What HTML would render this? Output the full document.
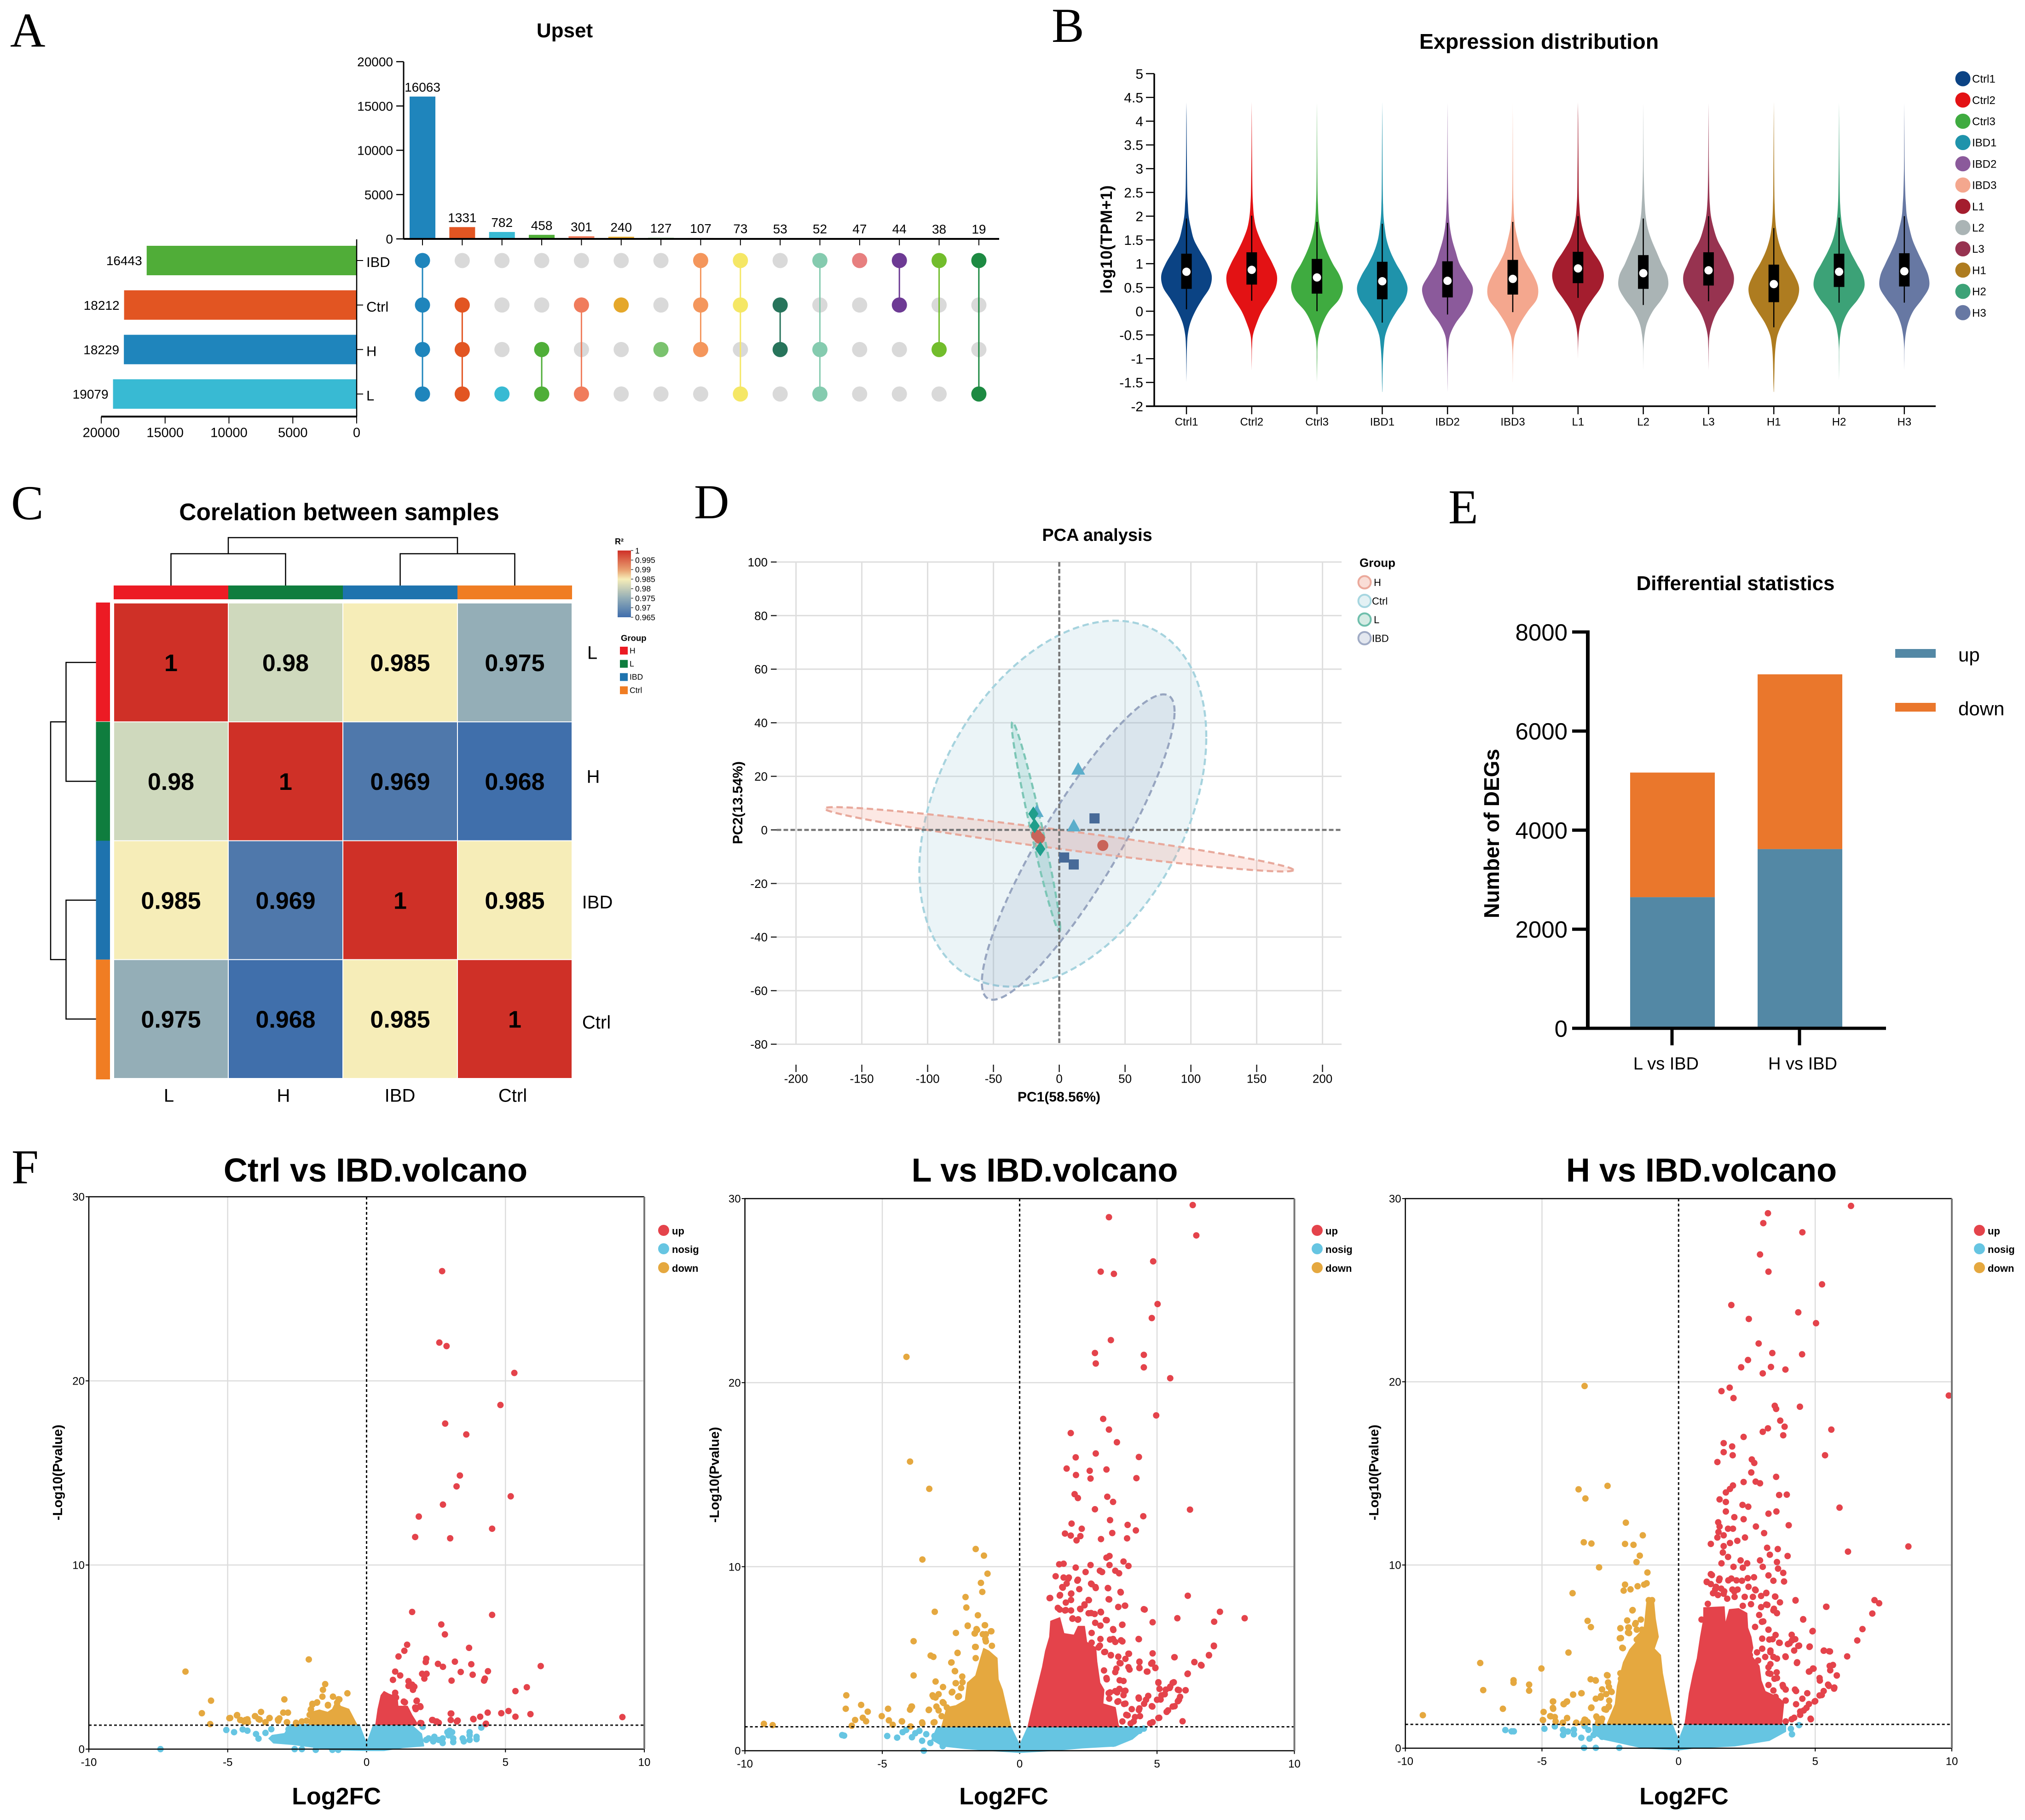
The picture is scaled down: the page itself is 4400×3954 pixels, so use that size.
<!DOCTYPE html>
<html lang="en">
<head>
<meta charset="utf-8">
<title>Multi-panel transcriptome figure</title>
<style>
html,body{margin:0;padding:0;background:#fff;}
svg{display:block;font-family:"Liberation Sans",Arial,sans-serif;}
.letter{font-family:"Liberation Serif",serif;font-size:106px;fill:#000;}
.ttl{font-weight:bold;text-anchor:middle;fill:#000;}
</style>
</head>
<body>
<svg id="figure" xmlns="http://www.w3.org/2000/svg" width="4400" height="3954" viewBox="0 0 4400 3954">
<defs>
<linearGradient id="r2grad" x1="0" y1="0" x2="0" y2="1">
<stop offset="0" stop-color="#CF3027"/><stop offset="0.29" stop-color="#E8A070"/><stop offset="0.43" stop-color="#F6EDB8"/><stop offset="0.71" stop-color="#94AEB7"/><stop offset="1" stop-color="#3F6DAC"/>
</linearGradient>
</defs>
<rect x="0" y="0" width="4400" height="3954" fill="#fff"/>

<text class="letter" x="22" y="101">A</text>
<text class="letter" x="2285" y="91">B</text>
<text class="letter" x="24" y="1128">C</text>
<text class="letter" x="1508" y="1126">D</text>
<text class="letter" x="3147" y="1137">E</text>
<text class="letter" x="25" y="2571">F</text>

<text class="ttl" x="1227" y="81" font-size="44">Upset</text>
<text class="ttl" x="3344" y="106" font-size="46.6">Expression distribution</text>
<text class="ttl" x="0" y="0" font-size="35" transform="translate(2416,520) rotate(-90)" letter-spacing="0.6">log10(TPM+1)</text>
<text class="ttl" x="737" y="1130" font-size="51.5">Corelation between samples</text>
<text class="ttl" x="2384" y="1175" font-size="38">PCA analysis</text>
<text class="ttl" x="2301" y="2393" font-size="30">PC1(58.56%)</text>
<text class="ttl" x="0" y="0" font-size="30" transform="translate(1613,1744) rotate(-90)">PC2(13.54%)</text>
<text class="ttl" x="3771" y="1282" font-size="43.8">Differential statistics</text>
<text class="ttl" x="0" y="0" font-size="46" transform="translate(3257,1811) rotate(-90)">Number of DEGs</text>
<text class="ttl" x="816" y="2567" font-size="72">Ctrl vs IBD.volcano</text>
<text class="ttl" x="2270" y="2567" font-size="72">L vs IBD.volcano</text>
<text class="ttl" x="3697" y="2567" font-size="72">H vs IBD.volcano</text>
<text class="ttl" x="731" y="3920" font-size="52">Log2FC</text>
<text class="ttl" x="2181" y="3920" font-size="52">Log2FC</text>
<text class="ttl" x="3659" y="3920" font-size="52">Log2FC</text>
<text class="ttl" x="0" y="0" font-size="29" transform="translate(135,3199) rotate(-90)">-Log10(Pvalue)</text>
<text class="ttl" x="0" y="0" font-size="29" transform="translate(1562,3204) rotate(-90)">-Log10(Pvalue)</text>
<text class="ttl" x="0" y="0" font-size="29" transform="translate(2995,3199) rotate(-90)">-Log10(Pvalue)</text>

<g id="panelA"></g>
<g id="panelB"></g>
<g id="panelC"></g>
<g id="panelD"></g>
<g id="panelE"></g>
<g id="panelF"></g>
</svg>

<script>
/* ---------- Upset data ---------- */
const upsetValues = [16063,1331,782,458,301,240,127,107,73,53,52,47,44,38,19];
const upsetTicks = [0,5000,10000,15000,20000];
const upsetSets = ['IBD','Ctrl','H','L'];
const upsetMembers = [[0,1,2,3],[1,2,3],[3],[2,3],[1,3],[1],[2],[0,1,2],[0,1,3],[1,2],[0,2,3],[0],[0,1],[0,2],[0,3]];
const upsetColors = ['#1F85BC','#E25522','#38BAD3','#4FAE38','#F07C5C','#E5A72A','#7AC26E','#F4965C','#F5E765','#27745B','#85CBAF','#E77F7F','#6D3A94','#72BD2C','#1D8A42'];
const setSizes = [16443,18212,18229,19079];
const setColors = ['#50AD38','#E25522','#1F85BC','#38BAD3'];
const setTicks = [0,5000,10000,15000,20000];

/* ---------- Violin data ---------- */
const violinNames = ['Ctrl1','Ctrl2','Ctrl3','IBD1','IBD2','IBD3','L1','L2','L3','H1','H2','H3'];
const violinColors = ['#0B4384','#E31214','#3FAB40','#1F93AB','#8B5A9B','#F4A78E','#A41D2E','#AAB4B5','#973350','#AE7C20','#3CA277','#6778A3'];
const violinTicks = [-2,-1.5,-1,-0.5,0,0.5,1,1.5,2,2.5,3,3.5,4,4.5,5];
const densityLevels = [-1.7,-1.5,-1.25,-1,-0.75,-0.5,-0.25,0,0.25,0.5,0.75,1,1.25,1.5,1.75,2,2.25,2.5,3,3.5,4,4.4];
const densityCtrl1 = [0,0,.2,.4,.8,2,6,14,25,37,40,33,22,12,7,3.5,2.2,1.3,.8,.5,.3,0];
const densityCtrl2 = [0,0,0,.2,.5,2,8,16,28,38,40,33,23,14,7,3.5,2,1.2,.7,.4,.2,0];
const densityCtrl3 = [0,0,.2,.4,.7,3,9,19,35,41,36,25,16,9,4.5,2.4,1.5,.9,.5,.3,.15,0];
const densityIBD1 = [.15,.4,.7,1.2,2.5,5,12,23,36,40,33,22,13,7,4,2,1.3,.9,.6,.4,.2,0];
const densityIBD2 = [0,.15,.3,.6,1.3,4,13,27,37,40,30,19,13,7.5,4,2.2,1.4,.9,.5,.3,.15,0];
const densityIBD3 = [0,0,.15,.3,.9,3.5,12,24,38,40,33,22,13,8,4,2,1.2,.7,.4,.25,.1,0];
const densityL1 = [0,0,0,0,.2,1,4,11,23,36,41,36,24,13,7,3.5,2,1.2,.8,.5,.3,0];
const densityL2 = [0,0,0,.15,.4,2,6,15,29,39,38,29,21,13,7,3.8,2.4,1.5,.6,.3,.15,0];
const densityL3 = [0,0,0,.15,.4,1.5,6,14,27,38,40,33,24,14,8,3.8,2,1.2,.6,.35,.15,0];
const densityH1 = [.2,.6,1,1.5,2.8,6,14,26,37,40,33,22,13,7,3.6,2,1.3,.9,.6,.4,.2,0];
const densityH2 = [0,0,.1,.2,.4,2,6,15,30,40,38,28,18,10,5.5,3,1.7,1.1,.6,.35,.15,0];
const densityH3 = [0,0,0,.15,.4,2,6,14,28,39,38,30,21,13,8,4,2.5,1.5,.6,.35,.15,0];
const violinDensity = [densityCtrl1,densityCtrl2,densityCtrl3,densityIBD1,densityIBD2,densityIBD3,densityL1,densityL2,densityL3,densityH1,densityH2,densityH3];
const violinQ1 = [.47,.56,.37,.25,.29,.35,.59,.47,.54,.19,.51,.52];
const violinMedian = [.83,.87,.71,.63,.64,.68,.90,.80,.86,.57,.83,.84];
const violinQ3 = [1.21,1.24,1.10,1.04,1.05,1.08,1.25,1.18,1.24,.98,1.21,1.22];
const violinLow = [.04,.22,0,-.24,-.07,-.02,.28,.13,.21,-.34,.18,.18];
const violinHigh = [1.95,2.01,1.88,1.84,1.86,1.88,2.0,1.95,2.0,1.75,1.97,2.0];

/* ---------- Heatmap data ---------- */
const heatRows = ['L','H','IBD','Ctrl'];
const heatValues = [[1,0.98,0.985,0.975],[0.98,1,0.969,0.968],[0.985,0.969,1,0.985],[0.975,0.968,0.985,1]];
const heatStops = [0.965,0.968,0.969,0.975,0.98,0.985,1];
const heatStopColors = ['#3A6AAB','#406FAB','#4F78AB','#94AEB7','#CFD9BD','#F6EDB8','#CF3027'];
const heatLegendTicks = ['1','0.995','0.99','0.985','0.98','0.975','0.97','0.965'];
const heatGroups = ['H','L','IBD','Ctrl'];
const heatGroupColors = ['#EC1B24','#0F7D3E','#1E73AE','#F07D23'];

/* ---------- PCA data ---------- */
const pcaXTicks = [-200,-150,-100,-50,0,50,100,150,200];
const pcaYTicks = [-80,-60,-40,-20,0,20,40,60,80,100];
const pcaGroups = ['H','Ctrl','L','IBD'];
const pcaHx = [33.1,-17.1,-15.1], pcaHy = [-5.8,-2,-3.1];
const pcaCtrlx = [14.4,11,-17.1], pcaCtrly = [22.7,1.5,6.9];
const pcaLx = [-19.7,-18.7,-14.4], pcaLy = [6,1.5,-7.1];
const pcaIBDx = [26.8,3.7,11], pcaIBDy = [4.3,-10.3,-12.9];
/* ellipse: centre x, centre y, half-extent x, half-extent y, correlation */
const ellipseCtrl = [2.7,9.8,109,68.3,0.365];
const ellipseIBD = [14.4,-6.4,73.2,57,0.886];
const ellipseH = [-0.2,-3.5,178,12,-0.955];
const ellipseL = [-17.7,1.2,18.4,39.1,-0.968];

/* ---------- DEG bar data ---------- */
const degCategories = ['L vs IBD','H vs IBD'];
const degUp = [2647,3618];
const degDown = [2515,3527];
const degTicks = [0,2000,4000,6000,8000];

/* ---------- Volcano: Ctrl vs IBD ---------- */
const v1Up = [[2.72,25.96],[2.62,22.08],[2.88,21.89],[5.32,20.43],[4.82,18.69],[2.83,17.68],[3.59,17.09],[3.36,14.86],[3.24,14.27],[5.19,13.73],[2.75,13.28],[1.88,12.63],[4.52,11.97],[1.75,11.52],[3.01,11.45],[1.64,7.45],[4.52,7.29],[2.69,6.77],[2.82,6.23],[3.69,5.5],[1.46,5.67],[1.36,5.34],[1.15,5.03],[2.15,4.91],[2.13,4.73],[3.18,4.75],[2.57,4.63],[2.75,4.47],[3.77,4.61],[6.27,4.51],[1.03,4.21],[1.21,4],[2,4.09],[2.16,4.09],[2.08,3.83],[3.39,4.19],[3.82,4.04],[4.37,4.23],[4.26,3.83],[4.23,3.72],[3.06,3.72],[.95,3.76],[1.51,3.69],[1.51,3.43],[1.64,3.5],[1.72,3.39],[1.67,3.22],[5.77,3.36],[5.36,3.15],[9.21,1.74],[5.9,1.9],[5.36,1.76],[5.11,2.07],[4.85,1.95],[4.36,1.98],[4.09,1.76],[3.85,1.62],[4.29,1.36],[3.28,1.55],[3.05,1.93],[3.03,1.58],[2.6,1.43],[2.5,1.5],[2.38,1.58],[1.97,1.41],[1.8,2.61],[1.93,2.33],[1.75,2.26],[1.38,2.54],[1.03,3.06],[1.06,2.8],[1.81,2.63],[1.34,2.58],[1.94,2.29],[1.77,2.17],[3.03,1.93],[3.25,1.5],[2.36,1.58],[2.53,1.5],[1.94,1.42],[3.84,1.64],[4.3,1.38]];
const v1Down = [[-2.08,4.87],[-6.52,4.21],[-5.6,2.63],[-5.93,1.95],[-5.63,1.36],[-4.91,1.69],[-4.67,1.83],[-4.55,1.58],[-4.29,1.62],[-4.41,1.5],[-4.01,1.79],[-3.8,2.02],[-3.85,1.6],[-3.49,1.69],[-3.64,1.46],[-3.19,1.6],[-2.96,2.7],[-3,1.98],[-2.83,1.98],[-2.87,1.46],[-2.54,1.39],[-2.33,1.5],[-1.49,3.53],[-1.57,3.22],[-1.59,2.85],[-1.21,2.85],[-.98,2.7],[-.69,3.03],[-1.79,2.52],[-1.95,2.42],[-2.01,2.14],[-1.39,2.37],[-1.06,2.52],[-2.05,1.86],[-4.36,1.58],[-4.53,1.58],[-4.27,1.46],[-4.66,1.85],[-4.94,1.68],[-4.02,1.79],[-3.89,1.63],[-3.64,1.46],[-3.5,1.68],[-3.18,1.54],[-3.14,1.67],[-2.86,1.46],[-2.54,1.43],[-2.33,1.5],[-2.16,1.54],[-2,2.17],[-1.95,2.46],[-1.78,2.54],[-1.39,2.4],[-1.01,2.71]];
const v1Nosig = [[-5.05,1.04],[-4.77,.92],[-4.46,1.07],[-4.29,1],[-7.42,0],[-3.98,.82],[-3.89,.57],[-3.64,.88],[-3.43,1.08],[-3.3,.5],[-2.81,1.08],[-2.59,0],[-2.33,0],[-1.83,-.04],[-1.23,-.04],[-1.02,-.04],[2.23,.58],[2.44,.67],[2.74,.58],[2.99,1],[3.12,.58],[3.46,.58],[3.71,.75],[3.96,.67],[2.02,1.21],[4.13,1.17],[2.15,.5],[2.4,.42],[2.74,.33],[3.12,.38],[3.5,.42],[3.71,.5],[3.96,.54],[2.91,.92],[3.08,.92],[3.71,.92],[2.6,.5],[2.95,.75]];
const v1UpBandX = [.33,.41,.52,.63,.79,.92,1,1.09,1.13,1.47,1.64,1.81,1.81];
const v1UpBandY = [1.33,2.17,2.92,3.13,3,2.92,3.17,3.08,2.33,2.33,1.83,1.42,1.32];
const v1DownBandX = [-2.08,-2,-1.7,-1.4,-1.23,-1.07,-.94,-.64,-.35];
const v1DownBandY = [1.33,2,2.13,2,2.17,2.67,2.33,2.17,1.33];
const v1NosigLeftX = [-2.75,-.26,0,0,-1.2,-2.67,-3.35,-3.52,-3.4,-2.95];
const v1NosigLeftY = [1.33,1.33,.29,-.08,-.04,.25,.33,.58,.75,.85];
const v1NosigRightX = [0,.25,1.6,1.98,2.06,1.3,.63,0];
const v1NosigRightY = [.29,1.33,1.33,.83,.17,.08,-.08,-.08];

/* ---------- Volcano: L vs IBD ---------- */
const v2Up = [[6.3,29.65],[3.25,28.99],[6.43,28],[4.86,26.59],[2.95,26.03],[3.43,25.91],[5.02,24.27],[4.81,23.51],[3.32,22.31],[2.74,21.61],[4.52,21.51],[2.77,21.04],[4.52,20.83],[5.48,20.24],[4.97,18.22],[3.04,18.03],[3.25,17.45],[1.86,17.26],[3.54,16.76],[2.77,16.15],[2.04,15.94],[4.34,15.96],[1.71,15.33],[2.55,15.21],[3.16,15.28],[2.05,14.98],[2.58,14.79],[4.25,14.81],[2,13.94],[2.12,13.73],[3.19,13.8],[3.4,13.52],[2.74,13.12],[6.2,13.1],[4.5,12.74],[3.29,12.53],[1.89,12.34],[3.93,12.27],[2.26,12.06],[1.65,11.8],[1.86,11.69],[2.21,11.66],[3.37,11.83],[4.23,11.97],[3.91,11.54],[2.07,11.43],[2.96,11.5],[3.27,10.58],[3.16,10.49],[1.44,10.13],[1.6,10.16],[2.58,10.09],[3.27,10.09],[3.78,10.28],[3.96,10.04],[2.04,9.95],[2.4,9.71],[2.92,9.78],[3,9.71],[3.48,9.78],[3.62,9.64],[1.31,9.48],[1.6,9.41],[1.79,9.41],[2.12,9.29],[2.6,9.08],[2.76,8.89],[3.21,8.84],[3.67,8.63],[1.55,8.89],[1.71,9.08],[1.47,8.46],[1.88,8.54],[1.11,8.3],[6.12,8.42],[3.24,8.23],[2.52,8.18],[2.36,7.95],[2.2,7.71],[1.39,7.76],[1.68,7.64],[3.59,7.81],[3.83,7.88],[4.52,7.69],[2.95,7.55],[2.6,7.48],[7.29,7.55],[8.19,7.2],[5.74,7.2],[4.84,6.98],[7.08,7.01],[3.73,6.84],[3.14,7.1],[1.92,7.17],[2.12,7.12],[3.4,6.61],[4.33,6.07],[3.4,6.07],[3.69,6],[7.07,5.71],[6.89,5.2],[5.64,5.08],[3.96,5.27],[4.84,5.29],[6.36,4.82],[6.6,4.66],[4.36,4.82],[4.79,4.73],[4.94,4.49],[4.63,4.3],[4.36,4.49],[3.96,4.54],[3.64,4.77],[3.32,5.2],[3.08,5.36],[2.92,5.71],[6.12,4.19],[6.04,3.29],[5.61,3.72],[5.48,3.48],[5.32,3.32],[5.16,3.01],[5,2.77],[4.81,2.42],[5.8,3.29],[5.8,2.77],[5.64,2.42],[5.4,2.19],[5.08,1.79],[4.84,1.55],[5.93,1.6],[4.6,2.77],[4.36,2.3],[4.2,1.83],[4.04,1.48],[3.8,3.24],[3.64,3.83],[3.48,3.24],[3.56,2.66],[3.4,2.19],[3.8,2.54],[3.88,1.95],[3.16,3.95],[3.24,3.13],[5.05,3.72],[4.33,2.89],[3.07,4.36],[3.17,3.88],[3.48,4.27],[3.52,4.46],[3.78,3.79],[4,4.41],[4.36,4.84],[4.36,4.51],[4.65,4.3],[4.83,4.79],[4.94,4.51],[3.98,5.27],[3.85,4.99],[3.59,5.11],[3.32,5.18],[3.11,5.37],[2.87,5.61],[3.67,4.75],[3.63,3.36],[3.85,3.26],[3.78,3.02],[3.29,3.17],[3.55,3.17],[3.26,2.83],[3.59,2.69],[3.85,2.56],[4.34,2.83],[4.53,2.55],[4.68,2.98],[4.83,2.4],[4.34,2.21],[4.08,2.26],[3.93,1.92],[3.74,1.59],[4.15,1.59],[4.38,1.88],[4.75,1.49],[5.05,1.78],[5.05,3.69],[5.09,3.36],[5.57,3.69],[5.46,3.41],[5.28,3.07],[5.13,2.78],[5.76,3.31],[6.04,3.28],[5.84,2.93],[5.76,2.69],[5.57,2.4],[5.35,2.11],[6.11,4.17],[5.63,5.08],[6.36,4.81],[6.62,4.63],[6.89,5.18],[7.07,5.68],[4.34,6.06],[3.74,5.94],[3.48,5.91],[3.29,6.04],[3.41,6.56],[3.74,6.85],[3.17,7.09],[2.94,6.8],[2.75,6.95],[2.62,6.4],[2.94,6.07],[2.62,5.87],[2.96,7.52],[2.51,7.47],[2.73,7.43],[2.13,7.14],[1.93,7.19],[4.55,7.67],[3.59,7.81],[3.84,7.88],[3.26,8.22],[3.68,8.6],[3.22,8.83],[2.62,9.05],[2.77,8.84],[2.51,8.19],[2.36,7.9],[2.21,7.69],[1.87,7.62],[1.46,7.67],[1.65,7.62],[1.68,8.05],[1.46,8.43],[1.57,8.86],[1.76,9.34],[1.87,8.19],[1.87,8.53],[1.09,8.29],[2.17,8.78],[2.1,9.24]];
const v2Down = [[-4.12,21.4],[-3.99,15.71],[-3.29,14.23],[-3.54,10.39],[-1.6,10.96],[-1.3,10.6],[-1.17,9.62],[-1.41,9.12],[-1.36,8.63],[-1.97,8.35],[-1.94,7.78],[-3.09,7.55],[-1.52,7.36],[-1.89,6.8],[-1.27,6.82],[-1.57,6.61],[-2.32,6.4],[-1.63,6.37],[-1.04,6.49],[-1.25,6.07],[-3.86,5.95],[-1.6,5.64],[-2.26,5.31],[-3.24,5.17],[-3.14,5.1],[-2.48,4.8],[-3.86,4.09],[-2.36,4.33],[-3.06,3.76],[-2.32,3.67],[-2.08,3.72],[-2.79,3.46],[-2.45,3.2],[-3.17,3.01],[-3.06,2.89],[-2.21,2.96],[-2.77,2.59],[-2.95,2.19],[-6.31,3.01],[-6.33,2.28],[-5.77,2.49],[-5.53,2.12],[-5.71,1.79],[-5.99,1.67],[-5.59,1.6],[-6.11,1.36],[-9.31,1.46],[-8.99,1.39],[-5.02,1.88],[-4.79,2.28],[-4.76,1.65],[-4.62,1.41],[-4.29,1.6],[-3.99,2.23],[-3.94,2.4],[-3.54,1.48],[-3.3,2.23],[-3.13,1.53],[-3.97,1.32],[-2.53,2.07],[-1.6,5.03],[-2.26,5.32],[-2.49,4.79],[-2.35,4.32],[-2.09,4.03],[-2.33,3.67],[-2.13,3.41],[-2.47,3.17],[-2.24,2.93],[-3.14,2.93],[-2.95,3.07],[-3.03,2.4],[-3.31,2.21],[-2.8,2.64],[-2.65,2.35],[-2.84,1.88],[-3.1,1.55],[-3.55,1.54],[-4.28,1.59],[-3.98,2.26],[-3.92,2.4],[-1.64,6.37],[-1.55,6.56],[-1.23,6.33],[-1.34,6.33],[-1.03,6.49],[-1.23,5.94],[-1.01,5.7],[-1.62,5.64],[-1.89,6.78],[-1.26,6.82]];
const v2Nosig = [[-6.46,.85],[-6.39,.82],[-4.82,.8],[-4.46,.71],[-3.49,0],[-3.25,.42],[-3.65,1.08],[-4.13,1.13],[-4.26,1.01],[-3.92,.73],[-3.55,.54],[-3.8,.95],[-3.4,.9],[-3.1,.8],[-2.8,.25],[3.4,.38],[3.64,.54],[3.88,.66],[4.12,.89],[4.36,1.08],[4.52,1.2]];
const v2UpBandX = [.3,.45,.64,.83,.94,1.09,1.13,1.46,1.61,1.98,2.13,2.36,2.44,2.77,2.81,2.92,3.07,3.03,3.48,3.59,3.63];
const v2UpBandY = [1.3,2.26,3.41,4.55,5.42,6.18,7.04,7.23,6.37,6.28,6.76,6.76,5.9,5.6,4.84,3.69,3.31,2.55,2.35,1.4,1.3];
const v2DownBandX = [-2.84,-2.65,-2.32,-1.98,-1.9,-1.6,-1.42,-1.31,-1.12,-.82,-.78,-.63,-.32];
const v2DownBandY = [1.3,2.35,2.45,2.74,3.69,4.08,5.03,5.56,5.42,5.03,3.88,3.31,1.3];
const v2NosigLeftX = [-3,-.32,0,0,-1,-2,-2.8,-3.2];
const v2NosigLeftY = [1.3,1.3,.3,-.1,0,.12,.25,.6];
const v2NosigRightX = [0,.3,4.64,4.1,3.48,2.28,1.16,0];
const v2NosigRightY = [.3,1.3,1.3,.63,.25,.15,0,-.1];

/* ---------- Volcano: H vs IBD ---------- */
const v3Up = [[6.31,29.6],[3.27,29.2],[3.1,28.66],[4.53,28.16],[2.98,26.95],[3.29,26.01],[5.25,25.32],[1.93,24.19],[4.38,23.79],[2.57,23.43],[5.03,23.2],[2.93,22.09],[3.43,21.57],[4.52,21.5],[2.54,21.19],[2.29,20.79],[3.38,20.81],[3.91,20.67],[3.08,20.46],[1.57,19.49],[1.87,19.68],[2.01,19.11],[9.89,19.25],[3.52,18.69],[3.57,18.52],[4.44,18.64],[3.72,17.88],[3.88,17.55],[3.27,17.46],[3.08,17.27],[5.59,17.39],[3.83,17.08],[2.38,16.99],[1.65,16.65],[1.96,16.47],[1.65,16.16],[1.98,15.99],[5.36,15.99],[1.42,15.62],[2.68,15.76],[2.77,15.57],[2.66,15.05],[3.57,14.81],[2.82,14.55],[2.98,14.46],[2.38,14.53],[1.99,14.34],[1.88,14.15],[1.73,13.96],[3.68,13.82],[3.96,13.84],[1.5,13.58],[1.73,13.44],[2.34,13.28],[2.55,13.18],[5.89,13.13],[3.58,12.92],[3.29,12.8],[1.73,12.92],[2.04,12.61],[2.38,12.5],[1.45,12.33],[1.5,12.1],[1.81,11.98],[1.99,11.98],[2.83,12.1],[4.03,12.17],[3.13,11.74],[1.46,11.8],[1.65,11.62],[1.42,11.5],[2.43,11.5],[2.15,11.32],[1.88,11.2],[1.18,11.15],[8.41,11.01],[1.65,11.03],[3.24,10.94],[3.63,10.87],[6.2,10.73],[1.62,10.68],[3.34,10.56],[3.99,10.49],[1.81,10.44],[2.27,10.25],[2.98,10.25],[1.57,10.09],[3.6,10.16],[2.51,10.09],[2.35,9.85],[3.08,9.9],[3.64,9.8],[2.01,9.9],[3.29,9.43],[3.83,9.57],[2.76,9.33],[1.18,9.5],[1.5,9.26],[1.93,9.26],[2.32,9.14],[1.03,9.07],[3.47,9.14],[3.86,9.1],[2.82,8.62],[3.21,8.48],[2.04,8.55],[1.34,8.67],[1.65,8.43],[3.54,8.27],[4.28,8.08],[7.17,8.08],[7.34,7.91],[5.4,7.72],[3.21,7.84],[3.49,7.61],[3.6,7.37],[7.09,7.35],[4.56,7.04],[3.05,6.9],[3.29,6.47],[6.73,6.5],[4.91,6.4],[4.14,6.19],[4.27,5.95],[4.06,5.72],[6.54,5.88],[4.41,5.6],[4.8,5.55],[3.68,5.76],[3.44,5.95],[3.91,5.01],[5.31,5.32],[5.51,5.29],[6.17,5.01],[4.33,4.65],[3.36,5.24],[3.6,4.89],[3.29,4.42],[5.65,4.54],[4.92,4.35],[4.77,4.18],[5.55,4.25],[5.79,3.97],[5.16,3.83],[5.47,3.47],[5.7,3.31],[5.31,3.12],[5.16,2.88],[5,2.57],[4.77,2.41],[4.58,2.06],[4.84,1.58],[4.3,3.12],[3.83,3.35],[3.6,3.83],[3.36,4.06],[4.45,1.82],[4.14,1.58],[3.47,4.98],[3.36,5.33],[3.06,5.43],[2.87,5.23],[2.61,5.08],[2.91,4.79],[3.17,4.98],[3.36,4.59],[3.59,4.14],[3.51,3.79],[3.29,4.09],[3.29,3.45],[3.47,3.15],[3.92,4.98],[4.34,4.69],[3.81,3.45],[4.26,3.2],[3.92,3.2],[3.55,2.8],[3.92,2.6],[4.3,2.4],[4.71,3],[4.53,2.7],[4.68,2.2],[4.45,2],[4.23,1.66],[3.92,1.46],[4.83,1.61],[4.98,2.55],[5.24,2.9],[5.17,3.69],[5.5,3.4],[5.69,3.25],[5.53,4.49],[5.79,3.97],[4.79,4.19],[4.94,4.34],[4.79,5.53],[5.32,5.33],[5.54,5.28],[4.15,5.88],[4,5.68],[4.38,5.58],[4.23,5.33],[4.9,6.38],[4.56,7.02],[5.41,7.72],[3.55,6.18],[3.7,5.75],[3.06,5.98],[3.32,5.93],[3.29,6.47],[3.1,6.92],[2.8,6.62],[2.95,7.27],[3.47,7.52],[3.02,7.7],[3.25,7.82],[2.65,7.86],[2.42,8.26],[2.72,8.26],[3.02,8.31],[3.21,8.46],[3.53,8.28],[3.71,7.96],[4.28,8.06],[2.35,7.77],[2.05,8.26],[1.78,8.16],[1.44,8.36],[1.26,8.46],[1.67,8.56],[1.97,8.66],[1.07,7.88],[.84,7.02],[1.56,8.71],[1.37,8.81],[1.18,8.96],[1.03,9.09],[1.48,9.16],[1.82,9.16],[2.12,9.16],[2.16,8.66],[2.53,9.28],[2.56,8.81],[2.8,8.66],[1.22,9.45]];
const v3Down = [[-3.44,19.77],[-2.6,14.32],[-3.66,14.13],[-3.41,13.63],[-1.93,12.31],[-1.31,11.62],[-3.47,11.24],[-3.19,11.17],[-1.96,11.15],[-1.65,11.1],[-1.42,10.51],[-1.54,10.16],[-2.91,9.87],[-1.14,9.59],[-1.96,8.93],[-2.01,8.6],[-1.76,8.67],[-1.5,8.84],[-1.26,8.93],[-1.17,9],[-3.88,8.46],[-1.09,8.08],[-.97,8.08],[-1.68,7.54],[-1.88,6.97],[-3.33,6.95],[-3.21,6.61],[-2.13,6.54],[-1.82,6.59],[-1.57,6.83],[-1.85,6.31],[-2.15,6],[-4.03,5.22],[-2.06,5.48],[-7.26,4.65],[-5.02,4.35],[-2.6,3.97],[-3.22,3.76],[-3.04,3.71],[-6.04,3.71],[-6.04,3.57],[-5.47,3.47],[-5.47,3.14],[-7.15,3.17],[-2.8,3.21],[-2.55,3.35],[-2.45,3.07],[-3.55,3],[-3.86,2.93],[-2.85,2.76],[-4.6,2.55],[-4.1,2.53],[-4.21,2.41],[-6.43,2.15],[-4.6,2.2],[-3.19,2.22],[-2.55,2.29],[-2.71,2.13],[-4.94,1.98],[-9.36,1.8],[-4.7,1.75],[-4.53,1.7],[-4.97,1.54],[-4.5,1.46],[-4.08,1.65],[-4.24,1.39],[-3.75,1.39],[-3.41,1.54],[-2.98,1.65],[-2.83,1.46],[-3.49,1.39],[-2.13,4.09],[-2.11,3.79],[-2.62,3.99],[-2.58,3.59],[-3.03,3.69],[-2.65,2.95],[-2.47,3.1],[-2.84,2.85],[-3.03,2.7],[-2.54,2.6],[-2.56,2.25],[-2.65,2.1],[-3.2,2.2],[-4.2,2.4],[-4.08,2.55],[-3.86,2.92],[-3.56,3],[-4.59,2.55],[-4.59,2.15],[-4.68,1.74],[-4.96,1.53],[-4.08,1.64],[-4.23,1.39],[-3.74,1.39],[-3.44,1.56],[-3.33,1.43],[-3.01,1.73],[-2.8,1.61],[-2.95,1.39],[-2.13,6.55],[-1.84,6.59],[-1.81,6.28],[-2.11,6.01],[-2.04,5.46],[-1.69,7.52],[-1.88,6.97],[-1.59,6.77],[-1.38,7.02],[-1.53,6.47],[-1.34,6.47],[-1.53,5.93]];
const v3Nosig = [[-6.34,.99],[-6.11,.92],[-6.03,.92],[-4.91,1.06],[-4.53,1.19],[-4.23,1.01],[-4.23,.72],[-4.05,.91],[-3.83,1.01],[-3.83,.76],[-3.56,.57],[-3.46,.02],[-3.03,.02],[-3.44,1.21],[-3.26,.52],[-3.11,.72],[-2.8,.62],[-2.58,.91],[-2.17,.02],[-3.3,1],[-3,1.1],[4.15,.76],[4.11,1.06],[4.41,1.26]];
const v3UpBandX = [.23,.39,.54,.68,.8,.92,.92,1.67,1.71,1.86,2.2,2.5,2.53,2.65,2.72,2.65,2.95,3.02,3.17,3.62,3.85,3.77];
const v3UpBandY = [1.31,3,4.09,4.89,6.08,7.07,7.67,7.72,6.77,7.57,7.62,7.37,6.57,6.08,5.48,5.08,4.49,3.69,3.1,2.8,2.5,1.31];
const v3DownBandX = [-2.62,-2.32,-2.24,-2.02,-1.79,-1.56,-1.56,-1.26,-1.15,-.92,-.85,-.74,-.89,-.66,-.59,-.23];
const v3DownBandY = [1.31,2.4,3.4,4.69,5.38,5.78,6.08,6.57,8.16,8.16,7.07,6.08,5.43,5.08,4.09,1.31];
const v3NosigLeftX = [-3.14,-.23,0,0,-1.34,-2.24,-2.8,-3.14];
const v3NosigLeftY = [1.3,1.31,.42,-.1,.02,.32,.5,.8];
const v3NosigRightX = [0,.23,3.92,3.92,3.32,2.05,.54,0];
const v3NosigRightY = [.42,1.31,1.31,.91,.42,.12,0,-.1];

const volcanoXTicks = [-10,-5,0,5,10];
const volcanoYTicks = [0,10,20,30];
const volcanoThreshold = 1.3;
const volcanoLegend = ['up','nosig','down'];

/* ---------- helpers ---------- */
const NS = 'http://www.w3.org/2000/svg';
function mk(tag, attrs, parent) {
  const el = document.createElementNS(NS, tag);
  for (const k in attrs) el.setAttribute(k, attrs[k]);
  parent.appendChild(el);
  return el;
}
function txt(parent, x, y, str, size, anchor, weight) {
  const el = mk('text', {x: x, y: y + size * 0.36, 'font-size': size, 'text-anchor': anchor || 'middle', 'font-weight': weight || 'normal', fill: '#000'}, parent);
  el.textContent = str;
  return el;
}
function scale(d0, d1, r0, r1) { return v => r0 + (v - d0) / (d1 - d0) * (r1 - r0); }
function smooth(pts) {
  let d = '';
  for (let i = 0; i < pts.length - 1; i++) {
    const p0 = pts[Math.max(i - 1, 0)], p1 = pts[i], p2 = pts[i + 1], p3 = pts[Math.min(i + 2, pts.length - 1)];
    d += 'C' + (p1[0] + (p2[0] - p0[0]) / 6).toFixed(2) + ' ' + (p1[1] + (p2[1] - p0[1]) / 6).toFixed(2) + ' ' +
         (p2[0] - (p3[0] - p1[0]) / 6).toFixed(2) + ' ' + (p2[1] - (p3[1] - p1[1]) / 6).toFixed(2) + ' ' +
         p2[0].toFixed(2) + ' ' + p2[1].toFixed(2);
  }
  return d;
}

/* ---------- Panel A ---------- */
(function () {
  const g = document.getElementById('panelA');
  const yUp = scale(0, 20000, 519, 134);
  const xBar = i => 918 + i * 86.35;
  const rowY = i => 566 + i * 96.67;
  const xSet = scale(0, 20000, 775, 220);
  upsetTicks.forEach(t => {
    const tk = mk('line', {x1: 861, x2: 877, y1: yUp(t), y2: yUp(t), stroke: '#000', 'stroke-width': 2.5}, g);
    
    
    const lb = txt(g, 854, yUp(t), String(t), 28, 'end');
    
    
  });
  const ax = mk('line', {x1: 877, x2: 877, y1: 134, y2: 519, stroke: '#000', 'stroke-width': 3}, g);
  
  
  upsetValues.forEach((v, i) => {
    const b = mk('rect', {x: xBar(i) - 28, y: yUp(v), width: 56, height: 519 - yUp(v), fill: upsetColors[i]}, g);
    
    
    const tk = mk('line', {x1: xBar(i), x2: xBar(i), y1: 519, y2: 533, stroke: '#000', 'stroke-width': 2}, g);
    
    
    const lb = txt(g, xBar(i), yUp(v) - 21, String(v), 28);
    
    
  });
  const xa = mk('line', {x1: 877, x2: 2171, y1: 519, y2: 519, stroke: '#000', 'stroke-width': 4}, g);
  
  

  setSizes.forEach((v, i) => {
    const b = mk('rect', {x: xSet(v), y: rowY(i) - 32, width: 775 - xSet(v), height: 64, fill: setColors[i]}, g);
    
    
    const lb = txt(g, xSet(v) - 10, rowY(i), String(v), 28, 'end');
    
    
    const tk = mk('line', {x1: 775, x2: 789, y1: rowY(i), y2: rowY(i), stroke: '#000', 'stroke-width': 2}, g);
    
    
    const nm = txt(g, 796, rowY(i) + 3, upsetSets[i], 31, 'start');
    
    
  });
  const sa = mk('line', {x1: 775, x2: 775, y1: 520, y2: 905, stroke: '#000', 'stroke-width': 2.5}, g);
  
  
  const sb = mk('line', {x1: 220, x2: 775, y1: 905, y2: 905, stroke: '#000', 'stroke-width': 4}, g);
  
  
  setTicks.forEach(t => {
    const tk = mk('line', {x1: xSet(t), x2: xSet(t), y1: 905, y2: 920, stroke: '#000', 'stroke-width': 2}, g);
    
    
    const lb = txt(g, xSet(t), 939, String(t), 29);
    
    
  });
  upsetMembers.forEach((m, i) => {
    upsetSets.forEach((s, r) => {
      if (m.indexOf(r) < 0) {
        const d = mk('circle', {cx: xBar(i), cy: rowY(r), r: 16.5, fill: '#D9D9D9'}, g);
        
        
      }
    });
  });
  upsetMembers.forEach((m, i) => {
    if (m.length > 1) {
      const ln = mk('line', {x1: xBar(i), x2: xBar(i), y1: rowY(m[0]), y2: rowY(m[m.length - 1]), stroke: upsetColors[i], 'stroke-width': 3}, g);
      
      
    }
    m.forEach(r => {
      const d = mk('circle', {cx: xBar(i), cy: rowY(r), r: 16.5, fill: upsetColors[i]}, g);
      
      
    });
  });
})();

/* ---------- Panel B ---------- */
(function () {
  const g = document.getElementById('panelB');
  const y = scale(-2, 5, 882.5, 160);
  const x = i => 2578 + i * 141.8;
  violinTicks.forEach(t => {
    const tk = mk('line', {x1: 2490, x2: 2508, y1: y(t), y2: y(t), stroke: '#000', 'stroke-width': 2.5}, g);
    
    
    const lb = txt(g, 2484, y(t), String(t), 30, 'end');
    
    
  });
  violinNames.forEach((n, i) => {
    const c = x(i), dens = violinDensity[i];
    let first = 0;
    while (first < dens.length - 1 && dens[first + 1] === 0) first++;
    const lv = densityLevels.slice(first), dv = dens.slice(first);
    const right = lv.map((l, k) => [c + dv[k] * 1.371, y(l)]);
    const left = lv.map((l, k) => [c - dv[k] * 1.371, y(l)]).reverse();
    const p = mk('path', {d: 'M' + right[0][0] + ' ' + right[0][1] + smooth(right) + 'L' + left[0][0] + ' ' + left[0][1] + smooth(left) + 'Z', fill: violinColors[i]}, g);
    
    
    const w = mk('line', {x1: c, x2: c, y1: y(violinLow[i]), y2: y(violinHigh[i]), stroke: '#000', 'stroke-width': 2.5}, g);
    
    
    const b = mk('rect', {x: c - 11.5, y: y(violinQ3[i]), width: 23, height: y(violinQ1[i]) - y(violinQ3[i]), fill: '#000'}, g);
    
    
    const m = mk('circle', {cx: c, cy: y(violinMedian[i]), r: 9, fill: '#fff'}, g);
    
    
    const tk = mk('line', {x1: c, x2: c, y1: 882.5, y2: 900, stroke: '#000', 'stroke-width': 2.5}, g);
    
    
    const lb = txt(g, c, 916, n, 24);
    
    
    const ld = mk('circle', {cx: 4265, cy: 171 + i * 46.2, r: 16.5, fill: violinColors[i]}, g);
    
    
    const ll = txt(g, 4285, 171 + i * 46.2, n, 24, 'start');
    
    
  });
  const ay = mk('line', {x1: 2508, x2: 2508, y1: 160, y2: 884, stroke: '#000', 'stroke-width': 3.5}, g);
  
  
  const ax = mk('line', {x1: 2490, x2: 4206, y1: 882.5, y2: 882.5, stroke: '#000', 'stroke-width': 3.5}, g);
  
  
})();

/* ---------- Panel C ---------- */
(function () {
  const g = document.getElementById('panelC');
  const cx = scale(0, 4, 247, 1243), cy = scale(0, 4, 1310, 2343);
  function hex2(c) { return [parseInt(c.substr(1, 2), 16), parseInt(c.substr(3, 2), 16), parseInt(c.substr(5, 2), 16)]; }
  function heatColor(v) {
    let k = 0;
    while (k < heatStops.length - 2 && v > heatStops[k + 1]) k++;
    const t = Math.min(1, Math.max(0, (v - heatStops[k]) / (heatStops[k + 1] - heatStops[k])));
    const a = hex2(heatStopColors[k]), b = hex2(heatStopColors[k + 1]);
    return 'rgb(' + a.map((q, j) => Math.round(q + (b[j] - q) * t)).join(',') + ')';
  }
  heatValues.forEach((row, r) => {
    row.forEach((v, c) => {
      const cell = mk('rect', {x: cx(c) + 1, y: cy(r) + 1, width: cx(1) - cx(0) - 2, height: cy(1) - cy(0) - 2, fill: heatColor(v)}, g);
      
      
      const lb = txt(g, (cx(c) + cx(c + 1)) / 2, (cy(r) + cy(r + 1)) / 2, String(v), 52, 'middle', 'bold');
      
      
    });
  });
  heatGroupColors.forEach((col, i) => {
    const t = mk('rect', {x: cx(i), y: 1272, width: cx(1) - cx(0), height: 30, fill: col}, g);
    
    
    const l = mk('rect', {x: 208.5, y: cy(i) - (i === 0 ? 1 : 0), width: 30.5, height: cy(1) - cy(0) + (i === 3 ? 2 : 0), fill: col}, g);
    
    
  });
  const cxc = i => (cx(i) + cx(i + 1)) / 2, cyc = i => (cy(i) + cy(i + 1)) / 2;
  const dTop = mk('path', {d: 'M' + cxc(0) + ' 1272V1203H' + cxc(1) + 'V1272M' + cx(1) + ' 1203V1168H' + cx(3) + 'V1203M' + cxc(2) + ' 1272V1203H' + cxc(3) + 'V1272', fill: 'none', stroke: '#000', 'stroke-width': 2.5}, g);
  
  
  const dLeft = mk('path', {d: 'M208.5 ' + cyc(0) + 'H143.5V' + cyc(1) + 'H208.5M143.5 ' + cy(1) + 'H110V' + cy(3) + 'H143.5M208.5 ' + cyc(2) + 'H143.5V' + cyc(3) + 'H208.5', fill: 'none', stroke: '#000', 'stroke-width': 2.5}, g);
  
  
  const rowLabelX = [1287, 1289, 1298, 1296], rowLabelY = [1417, 1686, 1959, 2220], colLabelX = [367, 616, 869, 1114];
  heatRows.forEach((n, i) => {
    const a = txt(g, rowLabelX[i], rowLabelY[i], n, 40);
    
    
    const b = txt(g, colLabelX[i], 2379, n, 40);
    
    
  });
  const rt = txt(g, 1336, 1176, 'R²', 18, 'start', 'bold');
  
  
  const bar = mk('rect', {x: 1342, y: 1196, width: 29, height: 145, fill: 'url(#r2grad)'}, g);
  
  
  heatLegendTicks.forEach((t, i) => {
    const yy = 1196 + i * 145 / 7;
    const tk = mk('line', {x1: 1371, x2: 1376, y1: yy, y2: yy, stroke: '#444', 'stroke-width': 1.5}, g);
    
    
    const lb = txt(g, 1380, yy, t, 17.5, 'start');
    
    
  });
  const gt = txt(g, 1349, 1386, 'Group', 18.5, 'start', 'bold');
  
  
  heatGroups.forEach((n, i) => {
    const yy = 1405 + i * 28.7;
    const s = mk('rect', {x: 1347, y: yy, width: 17, height: 17, fill: heatGroupColors[i]}, g);
    
    
    const lb = txt(g, 1368, yy + 8, n, 17.5, 'start');
    
    
  });
})();

/* ---------- Panel D ---------- */
(function () {
  const g = document.getElementById('panelD');
  const x = scale(-200, 200, 1729.6, 2873.6), y = scale(-80, 100, 2268.6, 1221);
  pcaXTicks.forEach(t => {
    if (t !== 0) {
      const gl = mk('line', {x1: x(t), x2: x(t), y1: 1221, y2: 2268.6, stroke: '#DEDEDE', 'stroke-width': 3}, g);
      
      
    }
    const tk = mk('line', {x1: x(t), x2: x(t), y1: 2313, y2: 2329, stroke: '#222', 'stroke-width': 2.5}, g);
    
    
    const lb = txt(g, x(t), 2343, String(t), 26);
    
    
  });
  pcaYTicks.forEach(t => {
    if (t !== 0) {
      const gl = mk('line', {x1: 1687.5, x2: 2915, y1: y(t), y2: y(t), stroke: '#DEDEDE', 'stroke-width': 3}, g);
      
      
    }
    const tk = mk('line', {x1: 1675, x2: 1687.5, y1: y(t), y2: y(t), stroke: '#222', 'stroke-width': 2.5}, g);
    
    
    const lb = txt(g, 1668, y(t), String(t), 26, 'end');
    
    
  });
  function ellipsePath(e) {
    let d = '';
    const shift = Math.acos(e[4]);
    for (let k = 0; k <= 160; k++) {
      const t = k / 160 * 2 * Math.PI;
      d += (k ? 'L' : 'M') + x(e[0] + e[2] * Math.cos(t)).toFixed(2) + ' ' + y(e[1] + e[3] * Math.cos(t - shift)).toFixed(2);
    }
    return d + 'Z';
  }
  const ee1 = mk('path', {d: ellipsePath(ellipseCtrl), fill: 'rgba(170,210,220,0.24)', stroke: '#A6D3DE', 'stroke-width': 4.5, 'stroke-dasharray': '14 8'}, g);
  
  
  const ee2 = mk('path', {d: ellipsePath(ellipseIBD), fill: 'rgba(80,110,160,0.11)', stroke: '#97A5C0', 'stroke-width': 4.5, 'stroke-dasharray': '14 8'}, g);
  
  
  const ee3 = mk('path', {d: ellipsePath(ellipseH), fill: 'rgba(240,150,130,0.22)', stroke: '#E8A99C', 'stroke-width': 4.5, 'stroke-dasharray': '14 8'}, g);
  
  
  const ee4 = mk('path', {d: ellipsePath(ellipseL), fill: 'rgba(30,160,140,0.14)', stroke: '#7CC6B6', 'stroke-width': 4.5, 'stroke-dasharray': '14 8'}, g);
  
  
  const z1 = mk('line', {x1: 1687.5, x2: 2915, y1: y(0), y2: y(0), stroke: '#777', 'stroke-width': 4.5, 'stroke-dasharray': '10 5'}, g);
  
  
  const z2 = mk('line', {x1: x(0), x2: x(0), y1: 1221, y2: 2268.6, stroke: '#777', 'stroke-width': 4.5, 'stroke-dasharray': '10 5'}, g);
  
  
  pcaCtrlx.forEach((v, i) => {
    const px = x(v), py = y(pcaCtrly[i]);
    const m = mk('polygon', {points: (px) + ',' + (py - 15) + ' ' + (px + 15) + ',' + (py + 12) + ' ' + (px - 15) + ',' + (py + 12), fill: '#5BAECB'}, g);
    
    
  });
  pcaIBDx.forEach((v, i) => {
    const px = x(v), py = y(pcaIBDy[i]);
    const m = mk('rect', {x: px - 11, y: py - 11, width: 22, height: 22, fill: '#476A98'}, g);
    
    
  });
  pcaHx.forEach((v, i) => {
    const m = mk('circle', {cx: x(v), cy: y(pcaHy[i]), r: 12, fill: '#C9645A'}, g);
    
    
  });
  pcaLx.forEach((v, i) => {
    const px = x(v), py = y(pcaLy[i]);
    const m = mk('polygon', {points: px + ',' + (py - 16) + ' ' + (px + 11) + ',' + py + ' ' + px + ',' + (py + 16) + ' ' + (px - 11) + ',' + py, fill: '#1F9E8B'}, g);
    
    
  });
  const lt = txt(g, 2954, 1222, 'Group', 26, 'start', 'bold');
  
  
  const lf = ['#F9DDD6', '#E3F1F4', '#D5EBE4', '#E3E7EF'], ls = ['#EBA99B', '#A6D6E0', '#6FBFAC', '#A0ABC5'], lx = [2985, 2981, 2985, 2981];
  pcaGroups.forEach((n, i) => {
    const yy = 1265 + i * 40.5;
    const c = mk('circle', {cx: 2965, cy: yy, r: 13.5, fill: lf[i], stroke: ls[i], 'stroke-width': 4}, g);
    
    
    const lb = txt(g, lx[i], yy, n, 22, 'start');
    
    
  });
})();

/* ---------- Panel E ---------- */
(function () {
  const g = document.getElementById('panelE');
  const y = scale(0, 8000, 2234, 1373);
  const barX = [3542, 3819], tickX = [3633, 3910], labX = [3620, 3917];
  degCategories.forEach((n, i) => {
    const u = mk('rect', {x: barX[i], y: y(degUp[i]), width: 184, height: 2234 - y(degUp[i]), fill: '#5388A5'}, g);
    
    
    const d = mk('rect', {x: barX[i], y: y(degUp[i] + degDown[i]), width: 184, height: y(degUp[i]) - y(degUp[i] + degDown[i]), fill: '#EA772C'}, g);
    
    
    const tk = mk('line', {x1: tickX[i], x2: tickX[i], y1: 2234, y2: 2271, stroke: '#000', 'stroke-width': 7}, g);
    
    
    const lb = txt(g, labX[i], 2310, n, 38);
    
    
  });
  degTicks.forEach(t => {
    const tk = mk('line', {x1: 3416, x2: 3450, y1: y(t), y2: y(t), stroke: '#000', 'stroke-width': 7}, g);
    
    
    const lb = txt(g, 3406, y(t), String(t), 51, 'end');
    
    
  });
  const ay = mk('line', {x1: 3450, x2: 3450, y1: 1369.5, y2: 2237.5, stroke: '#000', 'stroke-width': 8}, g);
  
  
  const ax = mk('line', {x1: 3416, x2: 4098, y1: 2234, y2: 2234, stroke: '#000', 'stroke-width': 7}, g);
  
  
  const s1 = mk('rect', {x: 4118, y: 1410, width: 88, height: 19, fill: '#5388A5'}, g);
  
  
  const l1 = txt(g, 4255, 1422, 'up', 42, 'start');
  
  
  const s2 = mk('rect', {x: 4118, y: 1527, width: 88, height: 19, fill: '#EA772C'}, g);
  
  
  const l2 = txt(g, 4255, 1539, 'down', 42, 'start');
  
  
})();

/* ---------- Panel F ---------- */
function drawVolcano(box, up, down, nosig, upX, upY, downX, downY, nlX, nlY, nrX, nrY) {
  const g = mk('g', {}, document.getElementById('panelF'));
  
  
  const UP = '#E4434B', NO = '#66C5E2', DN = '#E5A83F';
  const x = scale(-10, 10, box.l, box.r), y = scale(0, 30, box.b, box.t);
  volcanoXTicks.forEach(t => {
    if (Math.abs(t) === 5) {
      const gl = mk('line', {x1: x(t), x2: x(t), y1: box.t, y2: box.b, stroke: '#DCDCDC', 'stroke-width': 2.5}, g);
      
      
    }
    const tk = mk('line', {x1: x(t), x2: x(t), y1: box.b, y2: box.b + 7, stroke: '#000', 'stroke-width': 2}, g);
    
    
    const lb = txt(g, x(t), box.b + 28, String(t), 24);
    
    
  });
  volcanoYTicks.forEach(t => {
    if (t === 10 || t === 20) {
      const gl = mk('line', {x1: box.l, x2: box.r, y1: y(t), y2: y(t), stroke: '#DCDCDC', 'stroke-width': 2.5}, g);
      
      
    }
    const tk = mk('line', {x1: box.l - 7, x2: box.l, y1: y(t), y2: y(t), stroke: '#000', 'stroke-width': 2}, g);
    
    
    const lb = txt(g, box.l - 9, y(t), String(t), 24, 'end');
    
    
  });
  function band(xs, ys, color) {
    const pts = xs.map((v, i) => x(v).toFixed(1) + ',' + y(ys[i]).toFixed(1)).join(' ');
    return mk('polygon', {points: pts, fill: color, stroke: color, 'stroke-width': 2, 'stroke-linejoin': 'round'}, g);
  }
  const b1 = band(nlX, nlY, NO);
  
  
  const b2 = band(nrX, nrY, NO);
  
  
  nosig.forEach(p => {
    const c = mk('circle', {cx: x(p[0]), cy: y(p[1]), r: 7, fill: NO}, g);
    
    
  });
  const b3 = band(downX, downY, DN);
  
  
  down.forEach(p => {
    const c = mk('circle', {cx: x(p[0]), cy: y(p[1]), r: 7, fill: DN}, g);
    
    
  });
  const b4 = band(upX, upY, UP);
  
  
  up.forEach(p => {
    const c = mk('circle', {cx: x(p[0]), cy: y(p[1]), r: 7, fill: UP}, g);
    
    
  });
  const th = mk('line', {x1: box.l, x2: box.r, y1: y(volcanoThreshold), y2: y(volcanoThreshold), stroke: '#111', 'stroke-width': 3, 'stroke-dasharray': '6 5'}, g);
  
  
  const zv = mk('line', {x1: x(0), x2: x(0), y1: box.t, y2: box.b, stroke: '#111', 'stroke-width': 3, 'stroke-dasharray': '6 5'}, g);
  
  
  const f1 = mk('path', {d: 'M' + box.l + ' ' + box.b + 'V' + box.t + 'H' + box.r + 'M' + box.l + ' ' + box.b + 'H' + box.r, fill: 'none', stroke: '#000', 'stroke-width': 2.5}, g);
  
  
  const f2 = mk('line', {x1: box.r, x2: box.r, y1: box.t, y2: box.b, stroke: '#777', 'stroke-width': 4}, g);
  
  
  const lc = [UP, NO, DN], ly = [2673, 2713, 2754];
  volcanoLegend.forEach((n, i) => {
    const c = mk('circle', {cx: box.lx, cy: ly[i], r: 12, fill: lc[i]}, g);
    
    
    const lb = txt(g, box.lx + 18, ly[i] + 1, n, 22, 'start', 'bold');
    
    
  });
}
drawVolcano({l: 193, r: 1400, t: 2600, b: 3800, lx: 1442}, v1Up, v1Down, v1Nosig, v1UpBandX, v1UpBandY, v1DownBandX, v1DownBandY, v1NosigLeftX, v1NosigLeftY, v1NosigRightX, v1NosigRightY);
drawVolcano({l: 1618.6, r: 2812.5, t: 2604, b: 3803.5, lx: 2862}, v2Up, v2Down, v2Nosig, v2UpBandX, v2UpBandY, v2DownBandX, v2DownBandY, v2NosigLeftX, v2NosigLeftY, v2NosigRightX, v2NosigRightY);
drawVolcano({l: 3053.6, r: 4241, t: 2604, b: 3798, lx: 4301}, v3Up, v3Down, v3Nosig, v3UpBandX, v3UpBandY, v3DownBandX, v3DownBandY, v3NosigLeftX, v3NosigLeftY, v3NosigRightX, v3NosigRightY);
</script>
</body>
</html>
